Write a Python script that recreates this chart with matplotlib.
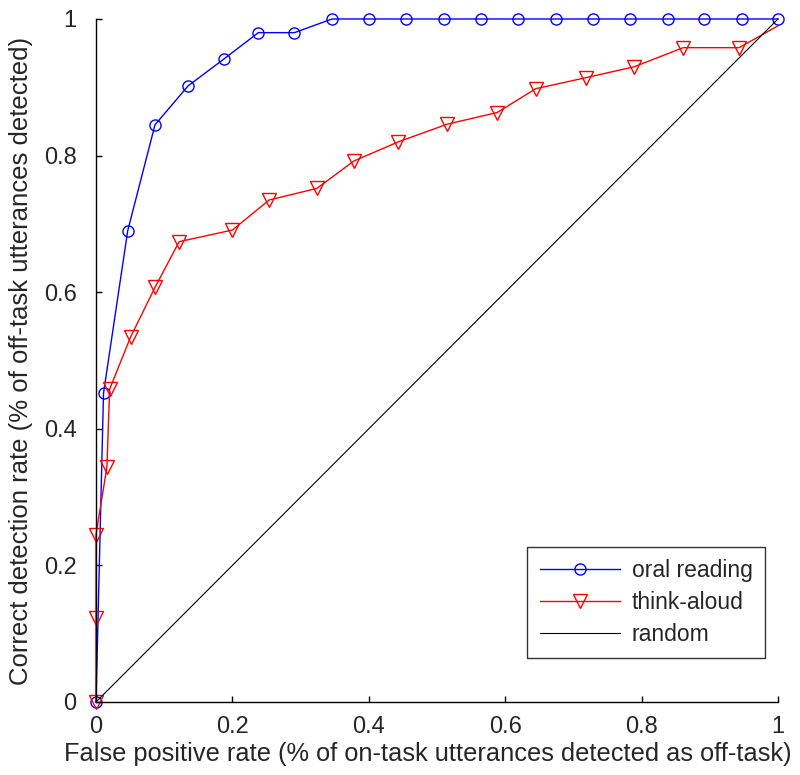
import matplotlib
matplotlib.use("Agg")
import matplotlib.pyplot as plt

# Data
oral_fpr = [0.0, 0.011, 0.0465, 0.0865, 0.135, 0.187, 0.238, 0.291, 0.346, 0.401, 0.455,
            0.510, 0.565, 0.619, 0.674, 0.729, 0.783, 0.838, 0.892, 0.947, 1.0]
oral_tpr = [0.0, 0.452, 0.690, 0.845, 0.902, 0.941, 0.980, 0.980, 1.0, 1.0, 1.0,
            1.0, 1.0, 1.0, 1.0, 1.0, 1.0, 1.0, 1.0, 1.0, 1.0]

think_fpr = [0.0, 0.0, 0.0, 0.016, 0.020, 0.051, 0.0865, 0.122, 0.200, 0.254, 0.324,
             0.378, 0.443, 0.515, 0.588, 0.645, 0.718, 0.789, 0.861, 0.943, 1.0]
think_tpr = [0.0, 0.123, 0.245, 0.344, 0.458, 0.535, 0.607, 0.674, 0.691, 0.735, 0.752,
             0.792, 0.820, 0.846, 0.863, 0.898, 0.914, 0.930, 0.958, 0.958, 0.99]

random_x = [0.0, 1.0]
random_y = [0.0, 1.0]

ticks = [0, 0.2, 0.4, 0.6, 0.8, 1.0]
tick_labels = ["0", "0.2", "0.4", "0.6", "0.8", "1"]

series_labels = ["oral reading", "think-aloud", "random"]

plt.rcParams['font.family'] = ['Liberation Sans', 'DejaVu Sans']
txt = '#262626'

fig = plt.figure(figsize=(8.0, 7.75), dpi=100)
ax = fig.add_axes([0.12, 0.0942, 0.8525, 0.8813])

ax.plot(oral_fpr, oral_tpr, color='#0000ff', lw=1.0, marker='o', markersize=8,
        markerfacecolor='none', markeredgecolor='#0000ff', markeredgewidth=1.0,
        label=series_labels[0], clip_on=False)
ax.plot(think_fpr, think_tpr, color='#ff0000', lw=1.0, marker='v', markersize=10,
        markerfacecolor='none', markeredgecolor='#ff0000', markeredgewidth=1.0,
        markevery=list(range(len(think_fpr) - 1)),
        label=series_labels[1], clip_on=False)
ax.plot(random_x, random_y, color='#000000', lw=0.8, label=series_labels[2], clip_on=False)

ax.set_xlim(0, 1)
ax.set_ylim(0, 1)
ax.set_xticks(ticks)
ax.set_xticklabels(tick_labels)
ax.set_yticks(ticks)
ax.set_yticklabels(tick_labels)

for s in ['top', 'right']:
    ax.spines[s].set_visible(False)
for s in ['left', 'bottom']:
    ax.spines[s].set_linewidth(1.0)
    ax.spines[s].set_color('black')

ax.tick_params(direction='in', length=4, width=1.0, labelsize=17, colors='black',
               labelcolor=txt)
ax.tick_params(axis='y', pad=14)
ax.tick_params(axis='x', pad=10)

ax.set_xlabel("False positive rate (% of on-task utterances detected as off-task)",
              fontsize=18.3, color=txt, va='top')
ax.set_ylabel("Correct detection rate (% of off-task utterances detected)",
              fontsize=18.5, color=txt)
ax.xaxis.set_label_coords(0.487, -0.058)
ax.yaxis.set_label_coords(-0.092, 0.5)

leg = ax.legend(loc='lower right', bbox_to_anchor=(0.981, 0.064), borderaxespad=0,
                fontsize=16.5, frameon=True, fancybox=False, handlelength=3.5,
                labelspacing=0.38, borderpad=0.55, handletextpad=0.5)
leg.get_frame().set_edgecolor('black')
leg.get_frame().set_linewidth(1.0)
for t in leg.get_texts():
    t.set_color(txt)

fig.savefig("out.png", dpi=100)
